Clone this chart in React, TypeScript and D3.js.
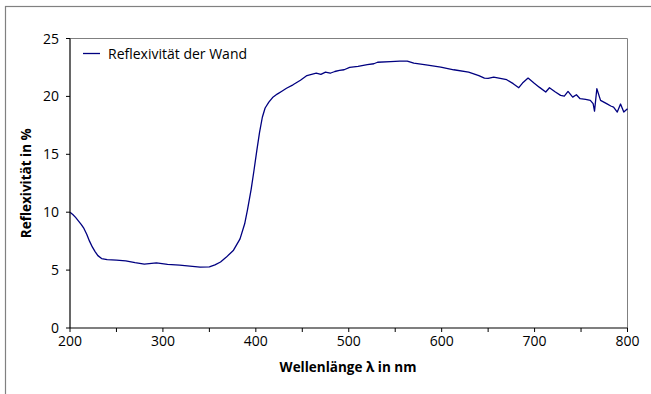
import React from "react";
import * as d3 from "d3";

// Spectral reflectance of the wall, wavelength in nm and reflectance in %
const wavelengths = [
  200, 203, 206, 209, 212, 215, 218, 221, 224, 227, 230, 234, 240, 250, 260, 270, 280, 293, 305, 318, 329,
  340, 350, 356, 362, 368, 376, 383, 388, 391, 395, 398, 401, 404, 407, 410, 414, 418, 423, 428, 433,
  440, 448, 455, 460, 465, 470, 475, 480, 485, 490, 495, 501, 510, 520, 527, 531, 545, 555, 563, 570,
  585, 599, 613, 629, 640, 646, 650, 656, 663, 670, 677, 683, 687, 693, 699, 705, 712, 716, 722, 728,
  732, 736, 741, 745, 749, 755, 760, 763, 764.5, 767, 771, 778, 782, 785, 789, 792.5, 796, 800,
];
const reflectance = [
  10.0, 9.8, 9.55, 9.25, 8.95, 8.6, 8.1, 7.5, 7.0, 6.6, 6.25, 6.0, 5.9, 5.86, 5.8, 5.65, 5.52, 5.62, 5.5, 5.43, 5.34,
  5.25, 5.28, 5.45, 5.7, 6.1, 6.72, 7.7, 9.0, 10.2, 12.0, 13.6, 15.3, 16.9, 18.2, 19.0, 19.5, 19.9, 20.2, 20.45, 20.7,
  21.0, 21.4, 21.8, 21.9, 22.0, 21.9, 22.1, 22.0, 22.15, 22.25, 22.3, 22.5, 22.6, 22.75, 22.82, 22.95, 23.0, 23.05, 23.05, 22.87,
  22.7, 22.53, 22.3, 22.1, 21.8, 21.58, 21.55, 21.67, 21.55, 21.44, 21.1, 20.75, 21.15, 21.58, 21.18, 20.8, 20.38, 20.75, 20.4, 20.09,
  20.03, 20.43, 19.94, 20.14, 19.8, 19.75, 19.66, 19.37, 18.73, 20.66, 19.66, 19.35, 19.17, 19.08, 18.65, 19.34, 18.65, 18.94,
];

const xTicks = [200, 250, 300, 350, 400, 450, 500, 550, 600, 650, 700, 750, 800];
const xLabels = [200, 300, 400, 500, 600, 700, 800];
const yTicks = [0, 5, 10, 15, 20, 25];

const seriesName = "Reflexivität der Wand";
const xTitle = "Wellenlänge λ in nm";
const yTitle = "Reflexivität in %";

const W = 651;
const H = 394;
const plot = { left: 70, right: 627.5, top: 38.5, bottom: 328 };
const FONT = "'Open Sans', 'Noto Sans', sans-serif";
const LINE = "#000080";

export default function App() {
  const x = d3.scaleLinear().domain([200, 800]).range([plot.left, plot.right]);
  const y = d3.scaleLinear().domain([0, 25]).range([plot.bottom, plot.top]);
  const points: [number, number][] = wavelengths.map((w, i) => [w, reflectance[i]]);
  const path = d3
    .line<[number, number]>()
    .x((d) => x(d[0]))
    .y((d) => y(d[1]))(points) as string;

  return (
    <svg
      width={W}
      height={H}
      style={{ position: "absolute", left: 0, top: 0, background: "#fff" }}
      fontFamily={FONT}
    >
      {/* outer chart frame */}
      <rect x={5.5} y={6.5} width={W + 20} height={H + 20} fill="#fff" stroke="#808080" strokeWidth={1.2} />

      {/* plot area frame */}
      <line x1={plot.left} x2={plot.right} y1={plot.top} y2={plot.top} stroke="#808080" strokeWidth={1} />
      <line x1={plot.right} x2={plot.right} y1={plot.top} y2={plot.bottom} stroke="#808080" strokeWidth={1} />

      {/* series */}
      <path d={path} fill="none" stroke={LINE} strokeWidth={1.3} strokeLinejoin="round" />

      {/* axes */}
      <line x1={plot.left} x2={plot.left} y1={plot.top} y2={plot.bottom} stroke="#000" strokeWidth={1.2} />
      <line x1={plot.left} x2={plot.right} y1={plot.bottom} y2={plot.bottom} stroke="#000" strokeWidth={1.2} />

      {yTicks.map((t) => (
        <g key={`y${t}`}>
          <line x1={plot.left - 4} x2={plot.left} y1={y(t)} y2={y(t)} stroke="#000" strokeWidth={1} />
          <text x={plot.left - 11} y={y(t)} dy="0.36em" textAnchor="end" fontSize={14} fill="#000">
            {t}
          </text>
        </g>
      ))}

      {xTicks.map((t) => (
        <line key={`xt${t}`} x1={x(t)} x2={x(t)} y1={plot.bottom} y2={plot.bottom + 4} stroke="#000" strokeWidth={1} />
      ))}
      {xLabels.map((t) => (
        <text key={`xl${t}`} x={x(t)} y={plot.bottom + 18} textAnchor="middle" fontSize={14} fill="#000">
          {t}
        </text>
      ))}

      {/* axis titles */}
      <text x={348} y={372} textAnchor="middle" fontSize={13.5} fontWeight="bold" fill="#000">
        {xTitle}
      </text>
      <text
        transform={`translate(31, ${(plot.top + plot.bottom) / 2}) rotate(-90)`}
        textAnchor="middle"
        fontSize={13.5}
        fontWeight="bold"
        fill="#000"
      >
        {yTitle}
      </text>

      {/* legend */}
      <line x1={83} x2={100} y1={53.5} y2={53.5} stroke={LINE} strokeWidth={1.3} />
      <text x={108} y={58.5} fontSize={14} fill="#000">
        {seriesName}
      </text>
    </svg>
  );
}
